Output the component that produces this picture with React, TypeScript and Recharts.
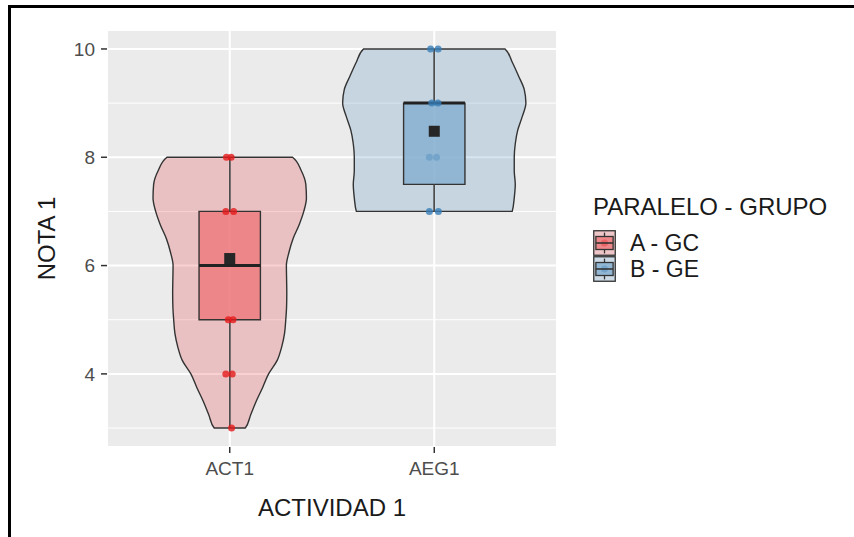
import React from 'react';
import {
  ComposedChart,
  Area,
  Line,
  Scatter,
  XAxis,
  YAxis,
  CartesianGrid,
  Label,
} from 'recharts';

// ---------- data ----------
const categories = ['ACT1', 'AEG1'];
const groupLabels = ['A - GC', 'B - GE'];
const groupColors = ['#E41A1C', '#377EB8'];
const yMajorTicks = [4, 6, 8, 10];
const yMinorTicks = [3, 5, 7, 9];

// violin outlines: half width (x-axis units) read at each NOTA level
const actViolinNota = [3, 3.25, 3.5, 3.75, 4, 4.25, 4.5, 4.75, 5, 5.25, 5.5, 5.75, 6, 6.25, 6.5, 6.75, 7, 7.25, 7.5, 7.75, 8];
const actViolinHalf = [0.076, 0.103, 0.13, 0.161, 0.19, 0.232, 0.254, 0.268, 0.274, 0.278, 0.279, 0.278, 0.277, 0.29, 0.31, 0.339, 0.362, 0.375, 0.372, 0.35, 0.307];
const aegViolinNota = [7, 7.25, 7.5, 7.75, 8, 8.25, 8.5, 8.75, 9, 9.25, 9.5, 9.75, 10];
const aegViolinHalf = [0.381, 0.391, 0.396, 0.391, 0.391, 0.396, 0.408, 0.43, 0.448, 0.44, 0.412, 0.382, 0.346];

// boxplot statistics per category
const boxQ1 = [5, 7.5];
const boxMedian = [6, 9];
const boxQ3 = [7, 9];
const whiskerLow = [3, 7];
const whiskerHigh = [8, 10];
const groupMeans = [6.13, 8.48];

// jittered observations
const actPointNota = [8, 8, 7, 7, 5, 5, 4, 4, 3];
const actPointJitter = [-0.016, 0.007, -0.019, 0.019, -0.007, 0.016, -0.019, 0.012, 0.009];
const aegPointNota = [10, 10, 9, 9, 8, 8, 7, 7];
const aegPointJitter = [-0.018, 0.019, -0.012, 0.018, -0.024, 0.011, -0.024, 0.02];

// ---------- style ----------
const FONT = '"Liberation Sans", Arial, Helvetica, sans-serif';
const OUTLINE = '#333333';
const BOX_HALF = 0.15;
const boxFills = ['#ED7779', '#83AECF'];
const BOX_OPACITY = 0.8;
// colour of a point seen through the semi-opaque box
const pointUnderBox = ['#EB6466', '#74A4CA'];

// ---------- derived table (rows by NOTA, one column per drawn shape) ----------
type SPt = { y: number; hw: number };
type Seq = { key: string; center: number; pts: SPt[]; kind: 'range' | 'point' };
const closedSeq = (ys: number[], hw: number[]): SPt[] => [
  { y: ys[0], hw: 0 },
  ...ys.map((y, i) => ({ y, hw: hw[i] })),
  { y: ys[ys.length - 1], hw: 0 },
];
const seqs: Seq[] = [
  { key: 'act', center: 1, kind: 'range', pts: closedSeq(actViolinNota, actViolinHalf) },
  { key: 'aeg', center: 2, kind: 'range', pts: closedSeq(aegViolinNota, aegViolinHalf) },
  ...categories.flatMap((c, g): Seq[] => [
    { key: 'wlo' + g, center: g + 1, kind: 'range', pts: [{ y: whiskerLow[g], hw: 0 }, { y: boxQ1[g], hw: 0 }] },
    { key: 'whi' + g, center: g + 1, kind: 'range', pts: [{ y: boxQ3[g], hw: 0 }, { y: whiskerHigh[g], hw: 0 }] },
    { key: 'box' + g, center: g + 1, kind: 'range', pts: closedSeq([boxQ1[g], boxQ3[g]], [BOX_HALF, BOX_HALF]) },
  ]),
  { key: 'pt0', center: 1, kind: 'point', pts: actPointNota.map((y, i) => ({ y, hw: actPointJitter[i] })) },
  { key: 'pt1', center: 2, kind: 'point', pts: aegPointNota.map((y, i) => ({ y, hw: aegPointJitter[i] })) },
];
const interpHalf = (pts: SPt[], y: number): number | null => {
  for (let i = 0; i < pts.length - 1; i++) {
    const a = pts[i];
    const b = pts[i + 1];
    if (a.y < y && y < b.y) return a.hw + ((b.hw - a.hw) * (y - a.y)) / (b.y - a.y);
  }
  return null;
};
const allY = Array.from(new Set(seqs.flatMap((s) => s.pts.map((p) => p.y)))).sort((a, b) => a - b);
const chartRows: any[] = [];
allY.forEach((y) => {
  const atY = seqs.map((s) => s.pts.filter((p) => p.y === y));
  const n = Math.max(1, ...atY.map((a) => a.length));
  for (let k = 0; k < n; k++) {
    const row: any = { y };
    seqs.forEach((s, si) => {
      const here = atY[si];
      if (s.kind === 'point') {
        row[s.key] = k < here.length ? s.center + here[k].hw : null;
        return;
      }
      const hw = here.length ? here[Math.min(k, here.length - 1)].hw : interpHalf(s.pts, y);
      row[s.key] = hw == null ? [null, null] : [s.center - hw, s.center + hw];
    });
    chartRows.push(row);
  }
});

const medianSegments = categories.map((c, g) => [
  { x: g + 1 - BOX_HALF, y: boxMedian[g] },
  { x: g + 1 + BOX_HALF, y: boxMedian[g] },
]);
const meanRows = groupMeans.map((y, i) => ({ x: i + 1, y }));

const XTitle = (props: any) => {
  const vb = props.viewBox;
  return (
    <text x={vb.x + vb.width / 2} y={vb.y + vb.height + 29} textAnchor="middle" fontFamily={FONT} fontSize={24} fill="#1a1a1a">
      ACTIVIDAD 1
    </text>
  );
};
const YTitle = (props: any) => {
  const vb = props.viewBox;
  const x = vb.x + 8;
  const y = vb.y + vb.height / 2;
  return (
    <text x={x} y={y} transform={`rotate(-90, ${x}, ${y})`} textAnchor="middle" fontFamily={FONT} fontSize={24} fill="#1a1a1a">
      NOTA 1
    </text>
  );
};

const LegendBox = () => {
  const lx = 593;
  const top = 230;
  const kw = 23;
  const kh = 26;
  return (
    <svg width={854} height={537} style={{ position: 'absolute', left: 0, top: 0, pointerEvents: 'none' }}>
      <text x={lx} y={215} fontFamily={FONT} fontSize={24} fill="#1a1a1a">PARALELO - GRUPO</text>
      {groupLabels.map((lab, i) => {
        const y0 = top + i * kh;
        const col = groupColors[i];
        return (
          <g key={lab}>
            <rect x={lx} y={y0} width={kw} height={kh} fill="#F2F2F2" />
            <rect x={lx + 0.75} y={y0 + 0.75} width={kw - 1.5} height={kh - 1.5} fill={col} fillOpacity={0.2} stroke={OUTLINE} strokeWidth={1.3} />
            <line x1={lx + kw / 2} x2={lx + kw / 2} y1={y0 + kh * 0.1} y2={y0 + kh * 0.25} stroke={OUTLINE} strokeWidth={1.3} />
            <line x1={lx + kw / 2} x2={lx + kw / 2} y1={y0 + kh * 0.75} y2={y0 + kh * 0.9} stroke={OUTLINE} strokeWidth={1.3} />
            <rect x={lx + kw * 0.125} y={y0 + kh * 0.25} width={kw * 0.75} height={kh * 0.5} fill={boxFills[i]} fillOpacity={BOX_OPACITY} stroke={OUTLINE} strokeWidth={1.3} />
            <circle cx={lx + kw / 2} cy={y0 + kh / 2} r={3.5} fill={pointUnderBox[i]} />
            <line x1={lx + kw * 0.125} x2={lx + kw * 0.875} y1={y0 + kh / 2} y2={y0 + kh / 2} stroke={OUTLINE} strokeWidth={1.6} />
            <text x={630} y={y0 + kh / 2 + 8} fontFamily={FONT} fontSize={23} fill="#1a1a1a">{lab}</text>
          </g>
        );
      })}
    </svg>
  );
};

const rangeArea = (key: string, fill: string, fillOpacity: number, type: 'monotone' | 'linear', stroke: string, strokeWidth: number) => (
  <Area
    key={key}
    dataKey={key}
    type={type}
    stroke={stroke}
    strokeWidth={strokeWidth}
    fill={fill}
    fillOpacity={fillOpacity}
    dot={false}
    activeDot={false}
    isAnimationActive={false}
  />
);

export default function App() {
  return (
    <div style={{ position: 'absolute', left: 0, top: 0, width: 854, height: 537, background: '#fff', overflow: 'hidden' }}>
      <div style={{ position: 'absolute', left: 8, top: 5, width: 846, height: 3, background: '#000' }} />
      <div style={{ position: 'absolute', left: 8, top: 5, width: 3, height: 532, background: '#000' }} />
      <div style={{ position: 'absolute', left: 0, top: 0 }}>
        <ComposedChart
          width={854}
          height={537}
          data={chartRows}
          layout="vertical"
          margin={{ top: 30, right: 297, bottom: 50, left: 47 }}
        >
          <CartesianGrid fill="#EBEBEB" stroke="#FFFFFF" strokeWidth={2} />
          <CartesianGrid horizontalValues={yMinorTicks} vertical={false} stroke="#FFFFFF" strokeWidth={1} />
          <XAxis
            type="number"
            dataKey="x"
            domain={[0.4, 2.6]}
            ticks={[1, 2]}
            interval={0}
            allowDataOverflow
            tickFormatter={(v: number) => categories[v - 1]}
            axisLine={false}
            tickLine={{ stroke: OUTLINE, strokeWidth: 1.5 }}
            tickSize={6}
            tickMargin={9}
            tick={{ fill: '#4D4D4D', fontSize: 19, fontFamily: FONT }}
            height={40}
            label={<Label content={XTitle} />}
          />
          <YAxis
            type="number"
            dataKey="y"
            domain={[2.65, 10.35]}
            ticks={yMajorTicks}
            interval={0}
            reversed
            allowDataOverflow
            axisLine={false}
            tickLine={{ stroke: OUTLINE, strokeWidth: 1.5 }}
            tickSize={6}
            tickMargin={6}
            tick={{ fill: '#4D4D4D', fontSize: 19, fontFamily: FONT }}
            width={60}
            label={<Label content={YTitle} />}
          />
          {rangeArea('act', groupColors[0], 0.2, 'monotone', OUTLINE, 1.4)}
          {rangeArea('aeg', groupColors[1], 0.2, 'monotone', OUTLINE, 1.4)}
          {categories.map((c, g) => rangeArea('wlo' + g, 'none', 0, 'linear', '#4D4D4D', 1.5))}
          {categories.map((c, g) => rangeArea('whi' + g, 'none', 0, 'linear', '#4D4D4D', 1.5))}
          {categories.map((c, g) => rangeArea('box' + g, boxFills[g], BOX_OPACITY, 'linear', OUTLINE, 1.4))}
          {categories.map((c, g) => (
            <Area
              key={'pt' + g}
              dataKey={'pt' + g}
              type="linear"
              stroke="none"
              fill="none"
              activeDot={false}
              isAnimationActive={false}
              dot={(p: any) => {
                const ok = typeof p.cx === 'number' && typeof p.cy === 'number' && isFinite(p.cx) && isFinite(p.cy);
                if (!ok) return <g key={'d' + g + '-' + p.index} />;
                const ny = p.payload ? p.payload.y : NaN;
                const inside = ny > boxQ1[g] && ny < boxQ3[g];
                return (
                  <circle
                    key={'d' + g + '-' + p.index}
                    cx={p.cx}
                    cy={p.cy}
                    r={3.5}
                    fill={inside ? pointUnderBox[g] : groupColors[g]}
                    fillOpacity={inside ? 1 : 0.8}
                    stroke="none"
                  />
                );
              }}
            />
          ))}
          {medianSegments.map((seg, i) => (
            <Line
              key={'med' + i}
              data={seg}
              dataKey="x"
              type="linear"
              stroke="#222222"
              strokeWidth={3}
              dot={false}
              activeDot={false}
              isAnimationActive={false}
            />
          ))}
          <Scatter
            data={meanRows}
            isAnimationActive={false}
            shape={(p: any) => <rect x={p.cx - 5.5} y={p.cy - 5.5} width={11} height={11} fill="#262626" />}
          />
        </ComposedChart>
      </div>
      <LegendBox />
    </div>
  );
}
